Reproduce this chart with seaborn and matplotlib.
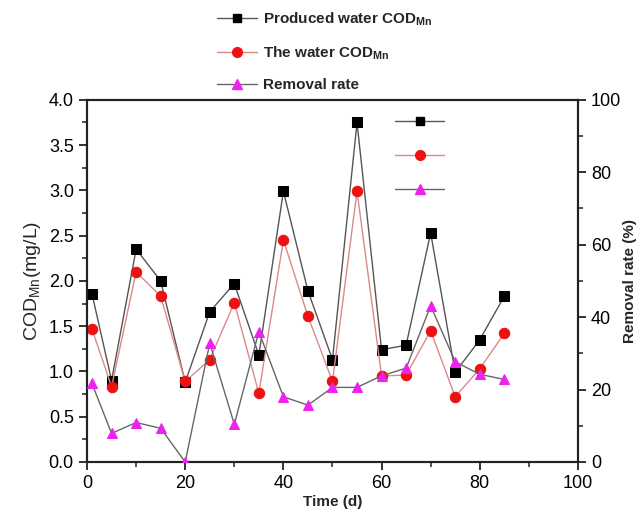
import numpy as np
import pandas as pd
import matplotlib
matplotlib.use("Agg")
import matplotlib.pyplot as plt
import seaborn as sns
from matplotlib.ticker import MultipleLocator
from matplotlib.lines import Line2D

time_d = [1, 5, 10, 15, 20, 25, 30, 35, 40, 45, 50, 55, 60, 65, 70, 75, 80, 85]
produced_cod = [1.86, 0.90, 2.35, 2.00, 0.88, 1.66, 1.97, 1.18, 2.99, 1.89, 1.13, 3.75, 1.24, 1.29, 2.53, 0.99, 1.35, 1.83]
water_cod = [1.47, 0.83, 2.10, 1.83, 0.89, 1.13, 1.76, 0.76, 2.45, 1.61, 0.89, 2.99, 0.95, 0.96, 1.45, 0.72, 1.03, 1.42]
removal_rate = [21.7, 7.9, 10.9, 9.3, 0.0, 32.8, 10.4, 36.0, 18.0, 15.7, 20.6, 20.6, 23.8, 25.9, 43.1, 27.7, 24.2, 22.8]

labels = [r"Produced water COD$_{\mathregular{Mn}}$", r"The water COD$_{\mathregular{Mn}}$", "Removal rate"]

sns.set_theme(style="ticks")
plt.rcParams["font.family"] = ["Liberation Sans", "DejaVu Sans"]
plt.rcParams["mathtext.fontset"] = "custom"
plt.rcParams["mathtext.rm"] = "Liberation Sans"

fig = plt.figure(figsize=(6.4, 5.28), dpi=100)
ax = fig.add_axes([0.136, 0.125, 0.767, 0.686])
ax2 = ax.twinx()

df = pd.DataFrame({"t": time_d, "p": produced_cod, "w": water_cod, "r": removal_rate})

sns.lineplot(data=df, x="t", y="p", ax=ax, color="#555555", lw=1.0, marker="s", ms=6.5,
             markerfacecolor="black", markeredgecolor="black", zorder=3)
sns.lineplot(data=df, x="t", y="w", ax=ax, color="#d98a8a", lw=1.0, marker="o", ms=7.5,
             markerfacecolor="#ee1111", markeredgecolor="#ee1111", zorder=3)
sns.lineplot(data=df, x="t", y="r", ax=ax2, color="#666666", lw=1.0, marker="^", ms=7.5,
             markerfacecolor="#ee22ee", markeredgecolor="#ee22ee", zorder=3)

ax.set_xlim(0, 100)
ax.set_ylim(0, 4.0)
ax2.set_ylim(0, 100)
ax.xaxis.set_major_locator(MultipleLocator(20))
ax.xaxis.set_minor_locator(MultipleLocator(10))
ax.yaxis.set_major_locator(MultipleLocator(0.5))
ax.yaxis.set_minor_locator(MultipleLocator(0.25))
ax2.yaxis.set_major_locator(MultipleLocator(20))
ax2.yaxis.set_minor_locator(MultipleLocator(10))
ax.yaxis.set_major_formatter(matplotlib.ticker.FormatStrFormatter("%.1f"))

for a in (ax, ax2):
    for s in a.spines.values():
        s.set_linewidth(1.5)
        s.set_color("#222222")
    a.tick_params(which="major", direction="out", length=6, width=1.3, labelsize=13, colors="#222222", labelcolor="black")
    a.tick_params(which="minor", direction="out", length=3.5, width=1.1, colors="#222222")

ax.set_xlabel("Time (d)", fontsize=11, fontweight="bold", labelpad=2)
ax.set_ylabel(r"COD$_{\mathregular{Mn}}$(mg/L)", fontsize=14, labelpad=4)
ax2.set_ylabel("Removal rate (%)", fontsize=11, fontweight="bold", labelpad=1)
ax.grid(False)
ax2.grid(False)

handles = [
    Line2D([], [], color="#555555", lw=1.0, marker="s", ms=6, markerfacecolor="black", markeredgecolor="black"),
    Line2D([], [], color="#d98a8a", lw=1.0, marker="o", ms=7, markerfacecolor="#ee1111", markeredgecolor="#ee1111"),
    Line2D([], [], color="#666666", lw=1.0, marker="^", ms=7, markerfacecolor="#ee22ee", markeredgecolor="#ee22ee"),
]
fig.legend(handles, labels, loc="upper left", bbox_to_anchor=(0.318, 1.006), frameon=False,
           prop={"weight": "bold", "size": 11}, handlelength=2.6, handletextpad=0.4, labelspacing=1.05)

leg2 = ax2.legend(handles, ["", "", ""], loc="upper left", bbox_to_anchor=(0.6, 0.995), frameon=False,
                  handlelength=3.2, handletextpad=0.0, labelspacing=1.3)

fig.savefig("out.png", dpi=100)
